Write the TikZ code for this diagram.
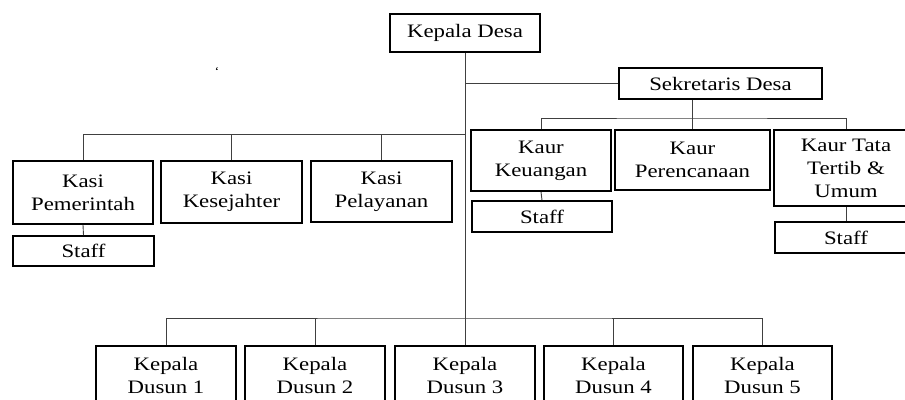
\documentclass[tikz,border=0pt]{standalone}
\usepackage{fontspec}
\setmainfont{Liberation Serif}[FakeStretch=1.2]
\begin{document}
\begin{tikzpicture}[x=1pt,y=-1pt,
  box/.style={draw=black, line width=1.6pt, inner sep=0pt, align=center, font=\fontsize{19}{23}\selectfont},
  conn/.style={draw=black!75, line width=0.9pt}]
\useasboundingbox (0,0) rectangle (905,399);
\fill[white] (0,0) rectangle (905,399);
% nodes
\node[box, minimum width=150pt, minimum height=38pt] (kd) at (465,33) {Kepala Desa};
\node[box, minimum width=203pt, minimum height=31pt] (sd) at (720.5,83.5) {Sekretaris Desa};
\node[box, minimum width=140pt, minimum height=63pt] (kp) at (83,192.5) {Kasi\\Pemerintah};
\node[box, minimum width=141pt, minimum height=62pt] (kk) at (231.5,192) {Kasi\\Kesejahter};
\node[box, minimum width=141pt, minimum height=61pt] (kl) at (381.5,191.5) {Kasi\\Pelayanan};
\node[box, minimum width=141pt, minimum height=30pt] (st1) at (83.5,251) {Staff};
\node[box, minimum width=140pt, minimum height=61pt] (ku) at (541,160.5) {Kaur\\Keuangan};
\node[box, minimum width=155pt, minimum height=60pt] (kpr) at (692.5,160) {Kaur\\Perencanaan};
\node[box, minimum width=144pt, minimum height=76pt] (kt) at (846,168) {Kaur Tata\\Tertib \&\\Umum};
\node[box, minimum width=140pt, minimum height=31pt] (st2) at (542,216.5) {Staff};
\node[box, minimum width=142pt, minimum height=31pt] (st3) at (846,237.5) {Staff};
\node[box, minimum width=140pt, minimum height=58pt] (d1) at (166,375) {Kepala\\Dusun 1};
\node[box, minimum width=140pt, minimum height=58pt] (d2) at (315,375) {Kepala\\Dusun 2};
\node[box, minimum width=140pt, minimum height=58pt] (d3) at (465,375) {Kepala\\Dusun 3};
\node[box, minimum width=139pt, minimum height=58pt] (d4) at (613.5,375) {Kepala\\Dusun 4};
\node[box, minimum width=139pt, minimum height=58pt] (d5) at (762.5,375) {Kepala\\Dusun 5};
\node[inner sep=0pt, font=\fontsize{12}{12}\selectfont] (tick) at (217,72) {`};
% bus coordinates
\coordinate (kbus) at (465,134);
\coordinate (kaurbus) at (690,118);
\coordinate (dbus) at (465,318);
% connectors
\draw[conn] (kd.south) -- (d3.north);
\draw[conn] (kd.south |- sd.west) -- (sd.west);
\draw[conn] (kbus) -| (kp.north);
\draw[conn] (kk.north) -- (kk.north |- kbus);
\draw[conn] (kl.north) -- (kl.north |- kbus);
\draw[conn] (kpr.north) -- (kpr.north |- sd.south);
\draw[conn] (ku.north) |- (kaurbus) -| (kt.north);
\draw[conn] (d1.north) |- (dbus) -| (d5.north);
\draw[conn] (d2.north) -- (d2.north |- dbus);
\draw[conn] (d4.north) -- (d4.north |- dbus);
\draw[conn] (kp.south) -- (st1.north);
\draw[conn] (ku.south) -- (st2.north);
\draw[conn] (kt.south) -- (st3.north);
\end{tikzpicture}
\end{document}
